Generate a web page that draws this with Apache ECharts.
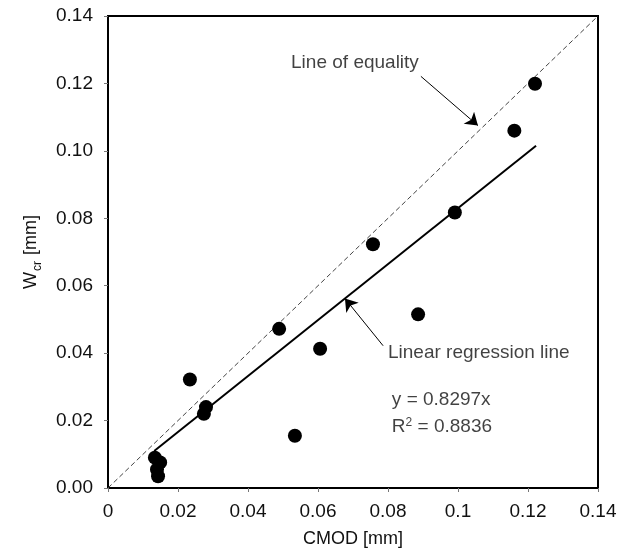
<!DOCTYPE html>
<html>
<head>
<meta charset="utf-8">
<script src="https://cdn.jsdelivr.net/npm/echarts@6/dist/echarts.min.js"></script>
<style>
html,body{margin:0;padding:0;background:#fff;}
#chart{width:632px;height:553px;}
</style>
</head>
<body>
<div id="chart"></div>
<script>
// Measured points: CMOD [mm] vs W_cr [mm]
var cmod = [0.0134, 0.0149, 0.0140, 0.0143, 0.0234, 0.0274, 0.0280, 0.0489, 0.0534, 0.0606, 0.0757, 0.0886, 0.0991, 0.1161, 0.1220];
var wcr  = [0.0090, 0.0076, 0.0055, 0.0035, 0.0322, 0.0220, 0.0240, 0.0472, 0.0155, 0.0413, 0.0723, 0.0515, 0.0817, 0.1060, 0.1199];

// Line of equality endpoints
var eqX = [0, 0.14];
var eqY = [0, 0.14];

// Linear regression line endpoints (y = 0.8297x)
var regX = [0.0132, 0.1223];
var regY = [0.0110, 0.1015];

// Annotation arrows (start -> head), data coordinates
var arrowEq  = [[0.0894, 0.1221], [0.1057, 0.1075]];
var arrowReg = [[0.0786, 0.0422], [0.0677, 0.0562]];

// Annotation texts and anchor points (left edge, vertical centre)
var noteText = ['Line of equality', 'Linear regression line', 'y = 0.8297x', 'R{s|2} = 0.8836'];
var noteX    = [0.0523, 0.0800, 0.0811, 0.0811];
var noteY    = [0.1262, 0.0401, 0.0261, 0.0182];

var xTicks = [0, 0.02, 0.04, 0.06, 0.08, 0.10, 0.12, 0.14];
var yTicks = [0, 0.02, 0.04, 0.06, 0.08, 0.10, 0.12, 0.14];

var FONT = '"Liberation Sans", Arial, sans-serif';

var pts = cmod.map(function (x, i) { return [x, wcr[i]]; });
var eqLine = eqX.map(function (x, i) { return [x, eqY[i]]; });
var regLine = regX.map(function (x, i) { return [x, regY[i]]; });
var notes = noteText.map(function (t, i) { return { value: [noteX[i], noteY[i]], name: t }; });

var chart = echarts.init(document.getElementById('chart'), null, { renderer: 'canvas' });
chart.setOption({
  backgroundColor: '#ffffff',
  animation: false,
  grid: { left: 108, right: 34, top: 16, bottom: 59, containLabel: false,
          show: true, borderColor: '#000', borderWidth: 2, backgroundColor: 'transparent' },
  xAxis: {
    type: 'value', min: xTicks[0], max: xTicks[xTicks.length - 1], interval: 0.02,
    name: 'CMOD [mm]', nameLocation: 'middle', nameGap: 42,
    nameTextStyle: { fontFamily: FONT, fontSize: 18, color: '#111' },
    axisLine: { show: true, onZero: false, lineStyle: { color: '#000', width: 2 } },
    axisTick: { show: true, inside: false, length: 4, lineStyle: { color: '#777', width: 1 } },
    splitLine: { show: false },
    axisLabel: { fontFamily: FONT, fontSize: 19, color: '#111', margin: 14,
                 formatter: function (v) { return String(+v.toFixed(2)); } }
  },
  yAxis: {
    type: 'value', min: yTicks[0], max: yTicks[yTicks.length - 1], interval: 0.02,
    name: '{a|W}{b|cr}{a| [mm]}', nameLocation: 'middle', nameGap: 68, nameRotate: 90,
    nameTextStyle: { fontFamily: FONT, color: '#111',
      rich: { a: { fontFamily: FONT, fontSize: 18, color: '#111', verticalAlign: 'bottom', lineHeight: 22 },
              b: { fontFamily: FONT, fontSize: 12, color: '#111', verticalAlign: 'bottom', lineHeight: 22, padding: [0, 1, -4, 1] } } },
    axisLine: { show: true, onZero: false, lineStyle: { color: '#000', width: 2 } },
    axisTick: { show: true, inside: false, length: 4, lineStyle: { color: '#777', width: 1 } },
    splitLine: { show: false },
    axisLabel: { fontFamily: FONT, fontSize: 19, color: '#111', margin: 15,
                 formatter: function (v) { return v.toFixed(2); } }
  },
  series: [
    { type: 'line', data: eqLine, symbol: 'none', silent: true, z: 2,
      lineStyle: { color: '#444', width: 1, type: [5, 3] } },
    { type: 'line', data: regLine, symbol: 'none', silent: true, z: 3,
      lineStyle: { color: '#000', width: 2 } },
    { type: 'scatter', data: pts, symbol: 'circle', symbolSize: 14, z: 5,
      itemStyle: { color: '#000', borderWidth: 0, opacity: 1 } },
    { type: 'lines', coordinateSystem: 'cartesian2d', silent: true, z: 4,
      symbol: ['none', 'arrow'], symbolSize: [8, 12],
      lineStyle: { color: '#000', width: 1, opacity: 1, curveness: 0 },
      data: [{ coords: arrowEq }, { coords: arrowReg }] },
    { type: 'scatter', data: notes, symbolSize: 0, silent: true, z: 6,
      itemStyle: { color: 'transparent' },
      label: { show: true, position: 'right', distance: 0, fontFamily: FONT, fontSize: 19,
               color: '#111', formatter: function (p) { return p.name; },
               rich: { s: { fontFamily: FONT, fontSize: 12, color: '#111', verticalAlign: 'top', padding: [0, 0, 8, 0] } } } }
  ]
});
</script>
</body>
</html>
